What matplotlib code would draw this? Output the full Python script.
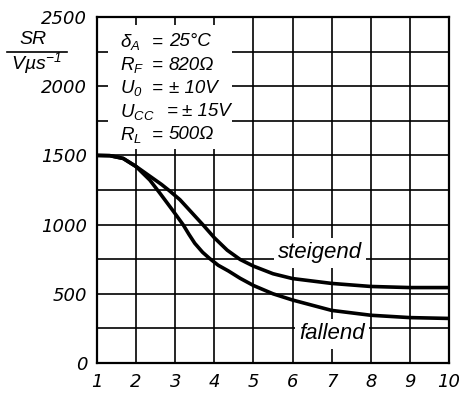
import matplotlib
matplotlib.use("Agg")
import matplotlib.pyplot as plt
from matplotlib.patches import Rectangle
from matplotlib.lines import Line2D

plt.rcParams['font.family'] = ['DejaVu Sans']
plt.rcParams['mathtext.fontset'] = 'custom'
plt.rcParams['mathtext.it'] = 'Liberation Sans:italic'
plt.rcParams['mathtext.rm'] = 'Liberation Sans:italic'
plt.rcParams['mathtext.default'] = 'it'

LIB = ['Liberation Sans', 'DejaVu Sans']

# data
x_steigend = [1, 1.33, 1.67, 2, 2.35, 2.65, 2.85, 3.12, 3.38, 3.72, 4, 4.33, 4.66, 5, 5.5, 6, 7, 8, 9, 10]
y_steigend = [1500, 1498, 1478, 1420, 1350, 1290, 1245, 1180, 1100, 995, 905, 815, 748, 700, 645, 610, 575, 553, 545, 545]
x_fallend = [1, 1.33, 1.67, 2, 2.35, 2.6, 2.93, 3.2, 3.35, 3.5, 3.7, 3.88, 4.1, 4.36, 4.66, 5, 5.5, 6, 7, 8, 9, 10]
y_fallend = [1500, 1498, 1478, 1419, 1322, 1230, 1105, 1000, 930, 865, 800, 755, 706, 665, 612, 560, 500, 455, 380, 345, 328, 322]

x_ticks = [1, 2, 3, 4, 5, 6, 7, 8, 9, 10]
y_ticks = [0, 500, 1000, 1500, 2000, 2500]
y_grid = [250, 750, 1250, 1750, 2250]

cond_names = [r"$\delta_A$", r"$R_F$", r"$U_0$", r"$U_{CC}$", r"$R_L$"]
cond_values = ["25°C", "820Ω", "± 10V", "± 15V", "500Ω"]

fig = plt.figure(figsize=(4.6, 3.93), dpi=100)
ax = fig.add_axes([97/460, 1-363/393, (449-97)/460, (363-17)/393])

ax.set_xlim(1, 10)
ax.set_ylim(0, 2500)
ax.set_xticks(x_ticks)
ax.set_yticks(y_ticks)
ax.set_yticks(y_grid, minor=True)
ax.set_xticklabels([str(v) for v in x_ticks], fontsize=13, style='italic')
ax.set_yticklabels([str(v) for v in y_ticks], fontsize=13, style='italic')
ax.tick_params(which='both', length=0, pad=7)
ax.set_axisbelow(True)
ax.grid(True, which='both', color='black', linewidth=1.2)
for s in ax.spines.values():
    s.set_linewidth(1.6)
    s.set_zorder(5)

# white area behind the condition text
ax.add_patch(Rectangle((1.27, 1545), 4.45-1.27, 2445-1545, facecolor='white',
                       edgecolor='none', zorder=1))

ax.plot(x_steigend, y_steigend, color='black', linewidth=2.6, zorder=3,
        solid_capstyle='butt', solid_joinstyle='round')
ax.plot(x_fallend, y_fallend, color='black', linewidth=2.6, zorder=3,
        solid_capstyle='butt', solid_joinstyle='round')

box = dict(facecolor='white', edgecolor='none', pad=3)
ax.text(6.7, 795, "steigend", fontsize=16, style='italic', ha='center',
        va='center', bbox=box, zorder=4, family=LIB)
ax.text(7.0, 210, "fallend", fontsize=16, style='italic', ha='center',
        va='center', bbox=box, zorder=4, family=LIB)

# condition text
y0 = 2320
dy = 168
fs = 13.5
for i, (n, v) in enumerate(zip(cond_names, cond_values)):
    yy = y0 - i * dy
    ax.text(1.588, yy, n, fontsize=fs, style='italic', ha='left', va='center',
            zorder=4, family=LIB)
    xe = 2.406 if i != 3 else 2.78
    xv = 2.84 if i != 3 else 3.17
    ax.text(xe, yy, "=", fontsize=fs, style='italic', ha='left', va='center',
            zorder=4, family=LIB)
    ax.text(xv, yy, v, fontsize=fs, style='italic', ha='left', va='center',
            zorder=4, family=LIB)

# y label as fraction
fig.text(33/460, 1-40/393, "SR", fontsize=14, style='italic', ha='center',
         va='center', family=LIB)
fig.add_artist(Line2D([7/460, 67/460], [1-52/393, 1-52/393], color='black',
                      linewidth=1.2, transform=fig.transFigure))
fig.text(36/460, 1-63/393, "Vµs$^{-1}$", fontsize=14, style='italic', ha='center',
         va='center', family=LIB)

fig.savefig("out.png", dpi=100)
